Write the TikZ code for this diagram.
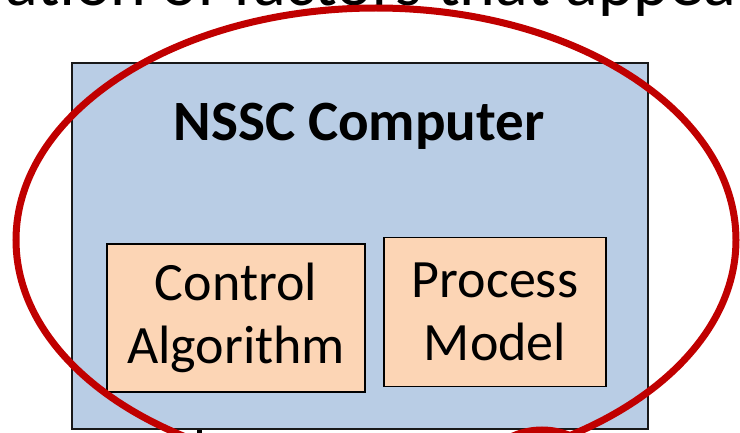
\documentclass[tikz,border=0pt]{standalone}
\usepackage{fontspec}
\setmainfont{Carlito}
\definecolor{boxblue}{HTML}{B9CDE5}
\definecolor{boxorange}{HTML}{FCD5B5}
\definecolor{ringred}{HTML}{C00000}
\tikzset{
  bigtext/.style={font=\fontsize{54}{63}\selectfont},
  outerbox/.style={draw=black!90, line width=1.8pt, fill=boxblue, inner sep=0pt},
  partbox/.style={draw=black, line width=1.1pt, fill=boxorange, inner sep=0pt,
    align=center, bigtext},
  ring/.style={draw=ringred, line width=7pt}
}
\begin{document}
\begin{tikzpicture}[x=1pt,y=-1pt]
\useasboundingbox (0,0) rectangle (740,433);
\clip (0,0) rectangle (740,433);

% line of slide text running off the top edge
\node[anchor=base west, inner sep=0pt, font=\fontsize{68}{80}\selectfont]
  (caption) at (5,6) {ation of factors that appea};

% controller box with its two parts
\node[outerbox, minimum width=576pt, minimum height=366pt, anchor=north west]
  (nssc) at (71,62) {};
\node[anchor=base, inner sep=0pt, font=\fontsize{57}{66}\selectfont\bfseries]
  (title) at (359,141) {NSSC Computer};
\node[partbox, minimum width=258pt, minimum height=148pt] (ctrl) at (236,318)
  {Control\\Algorithm};
\node[partbox, minimum width=222pt, minimum height=149pt] (model) at (495,312)
  {Process\\Model};

% stub of a line leaving the box downward
\coordinate (stub) at (199,440);
\draw[line width=5pt] (199,430) -- (stub);

% highlight rings
\draw[ring] (542,503) circle [radius=73];
\draw[ring] (376,240) ellipse [x radius=360, y radius=232];
\end{tikzpicture}
\end{document}
